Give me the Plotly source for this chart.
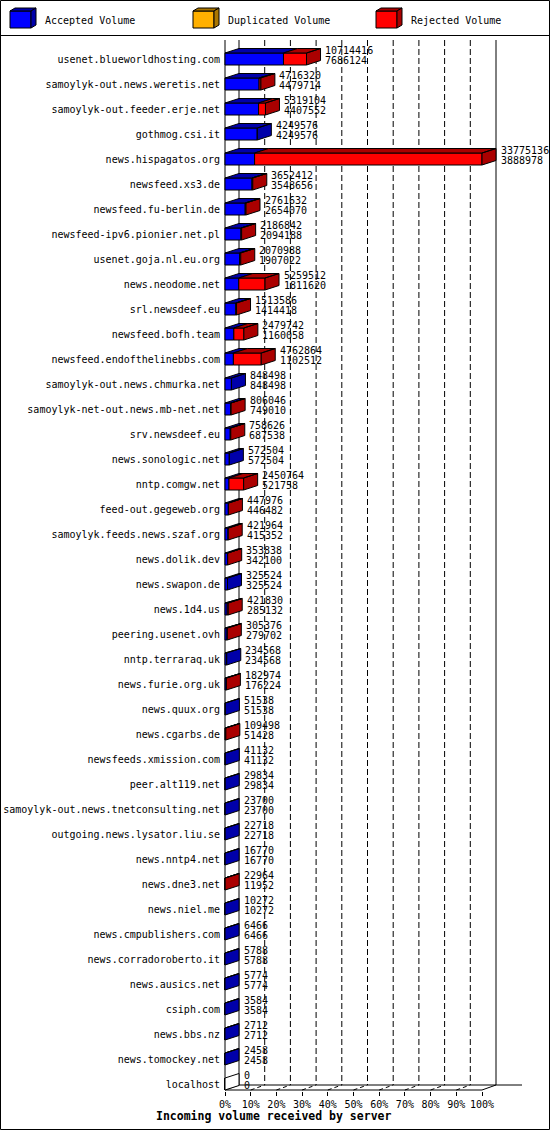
import plotly.graph_objects as go

# ---------------- data ----------------
servers = [
    "usenet.blueworldhosting.com", "samoylyk-out.news.weretis.net", "samoylyk-out.feeder.erje.net",
    "gothmog.csi.it", "news.hispagatos.org", "newsfeed.xs3.de", "newsfeed.fu-berlin.de",
    "newsfeed-ipv6.pionier.net.pl", "usenet.goja.nl.eu.org", "news.neodome.net", "srl.newsdeef.eu",
    "newsfeed.bofh.team", "newsfeed.endofthelinebbs.com", "samoylyk-out.news.chmurka.net",
    "samoylyk-net-out.news.mb-net.net", "srv.newsdeef.eu", "news.sonologic.net", "nntp.comgw.net",
    "feed-out.gegeweb.org", "samoylyk.feeds.news.szaf.org", "news.dolik.dev", "news.swapon.de",
    "news.1d4.us", "peering.usenet.ovh", "nntp.terraraq.uk", "news.furie.org.uk", "news.quux.org",
    "news.cgarbs.de", "newsfeeds.xmission.com", "peer.alt119.net",
    "samoylyk-out.news.tnetconsulting.net", "outgoing.news.lysator.liu.se", "news.nntp4.net",
    "news.dne3.net", "news.niel.me", "news.cmpublishers.com", "news.corradoroberto.it",
    "news.ausics.net", "csiph.com", "news.bbs.nz", "news.tomockey.net", "localhost",
]
offered_volume = [
    10714416, 4716320, 5319104, 4249576, 33775136, 3652412, 2761632, 2186842, 2070988, 5259512,
    1513586, 2479742, 4762864, 848498, 806046, 758626, 572504, 2450764, 447976, 421964, 353838,
    325524, 421830, 305376, 234568, 182974, 51538, 109498, 41132, 29834, 23700, 22718, 16770,
    22964, 10272, 6466, 5788, 5774, 3584, 2712, 2458, 0,
]
accepted_volume = [
    7686124, 4479714, 4407552, 4249576, 3888978, 3548656, 2654070, 2094188, 1907022, 1811620,
    1414418, 1160058, 1102512, 848498, 749010, 687538, 572504, 521758, 446482, 415352, 342100,
    325524, 285132, 279702, 234568, 176224, 51538, 51428, 41132, 29834, 23700, 22718, 16770,
    11952, 10272, 6466, 5788, 5774, 3584, 2712, 2458, 0,
]
percent_ticks = [0, 10, 20, 30, 40, 50, 60, 70, 80, 90, 100]
percent_labels = ["0%", "10%", "20%", "30%", "40%", "50%", "60%", "70%", "80%", "90%", "100%"]
legend_names = ["Accepted Volume", "Duplicated Volume", "Rejected Volume"]
x_title = "Incoming volume received by server"

# ---------------- styles / geometry ----------------
FONT = "DejaVu Sans Mono"
BLUE, BLUE_D = "#0000FF", "#0000AA"
RED, RED_D = "#FF0000", "#AA0000"
ORANGE, ORANGE_D = "#FFB000", "#AA7600"

FIG_W, FIG_H = 550, 1130
L, R, T, B = 224, 549, 36, 1091
PPU = 2.57        # pixels per percent
X0PX = 225        # pixel of 0 %
ROW0, ROWH = 59, 25


def xd(px):
    return (px - X0PX) / PPU


def yd(py):
    return (py - ROW0) / ROWH


def xp(px):
    return (px - L) / (R - L)


def yp(py):
    return (B - py) / (B - T)


DX = 14 / PPU
DY = 4.5 / ROWH
HALF = 6 / ROWH

vmax = max(offered_volume)
rows = list(range(len(servers)))
tot_pct = [v / vmax * 100 for v in offered_volume]
acc_pct = [a / vmax * 100 for a in accepted_volume]
rej_pct = [t - a for t, a in zip(tot_pct, acc_pct)]

fig = go.Figure()

# front faces
fig.add_trace(go.Bar(orientation="h", y=rows, x=acc_pct, base=[0] * len(rows), width=2 * HALF,
                     marker=dict(color=BLUE, line=dict(color="black", width=1)), hoverinfo="skip"))
fig.add_trace(go.Bar(orientation="h", y=rows, x=rej_pct, base=acc_pct, width=2 * HALF,
                     marker=dict(color=RED, line=dict(color="black", width=1)), hoverinfo="skip"))

# 3-D top and side faces
groups = {BLUE_D: ([], []), RED_D: ([], []), "#FFFFFF": ([], [])}


def add_poly(color, pts):
    xs, ys = groups[color]
    for px_, py_ in pts:
        xs.append(px_)
        ys.append(py_)
    xs.append(pts[0][0]); ys.append(pts[0][1])
    xs.append(None); ys.append(None)


for i in rows:
    v, a = tot_pct[i], acc_pct[i]
    top, bot = i - HALF, i + HALF
    if a > 0:
        add_poly(BLUE_D, [(0, top), (DX, top - DY), (a + DX, top - DY), (a, top)])
    if v > a:
        add_poly(RED_D, [(a, top), (a + DX, top - DY), (v + DX, top - DY), (v, top)])
    side = RED_D if v > a else (BLUE_D if v > 0 else "#FFFFFF")
    add_poly(side, [(v, top), (v + DX, top - DY), (v + DX, bot - DY), (v, bot)])

for color, (xs, ys) in groups.items():
    fig.add_trace(go.Scatter(x=xs, y=ys, mode="lines", fill="toself", fillcolor=color,
                             line=dict(color="black", width=1), hoverinfo="skip"))

# value labels
ann = []
for i in rows:
    xl = tot_pct[i] + DX + 3.5 / PPU
    ann.append(dict(x=xl, y=i - 9 / ROWH, xref="x", yref="y", text=str(offered_volume[i]),
                    showarrow=False, xanchor="left", yanchor="middle", borderpad=0,
                    font=dict(family=FONT, size=10, color="black")))
    ann.append(dict(x=xl, y=i + 1.5 / ROWH, xref="x", yref="y", text=str(accepted_volume[i]),
                    showarrow=False, xanchor="left", yanchor="middle", borderpad=0,
                    font=dict(family=FONT, size=10, color="black")))

# back wall, grid and floor
shapes = []
ytop, yback, yfront = yd(40), yd(1085), yd(1090)
line_k = dict(color="black", width=1)
shapes.append(dict(type="line", xref="x", yref="y", x0=0, x1=0, y0=ytop, y1=yfront, line=line_k, layer="below"))
for t in percent_ticks:
    solid = t in (0, 100)
    shapes.append(dict(type="line", xref="x", yref="y", x0=t + DX, x1=t + DX, y0=ytop, y1=yback,
                       line=dict(color="black", width=1, dash=None if solid else "6px,3px"), layer="below"))
    shapes.append(dict(type="line", xref="x", yref="y", x0=t, x1=t + DX, y0=yfront, y1=yback,
                       line=dict(color="black", width=1, dash=None if solid else "4px,3px"), layer="below"))
shapes.append(dict(type="line", xref="x", yref="y", x0=DX, x1=xd(522), y0=yback, y1=yback, line=line_k, layer="below"))
shapes.append(dict(type="line", xref="x", yref="y", x0=0, x1=100, y0=yfront, y1=yfront, line=line_k, layer="below"))

# legend (3-D cubes)
legend_x = [10, 193, 376]
legend_text_x = [44, 227, 410]
legend_cols = [(BLUE, BLUE_D), (ORANGE, ORANGE_D), (RED, RED_D)]
for lx, tx, (c, cd), name in zip(legend_x, legend_text_x, legend_cols, legend_names):
    x0, x1, y0, y1 = lx, lx + 21, 11, 28
    top_path = f"M {xp(x0)} {yp(y0)} L {xp(x0+5)} {yp(y0-3)} L {xp(x1+5)} {yp(y0-3)} L {xp(x1)} {yp(y0)} Z"
    side_path = f"M {xp(x1)} {yp(y0)} L {xp(x1+5)} {yp(y0-3)} L {xp(x1+5)} {yp(y1-3)} L {xp(x1)} {yp(y1)} Z"
    shapes.append(dict(type="rect", xref="paper", yref="paper", x0=xp(x0), x1=xp(x1), y0=yp(y1), y1=yp(y0),
                       fillcolor=c, line=line_k))
    shapes.append(dict(type="path", xref="paper", yref="paper", path=top_path, fillcolor=cd, line=line_k))
    shapes.append(dict(type="path", xref="paper", yref="paper", path=side_path, fillcolor=cd, line=line_k))
    ann.append(dict(x=xp(tx), y=yp(20), xref="paper", yref="paper", text=name, showarrow=False,
                    xanchor="left", yanchor="middle", borderpad=0,
                    font=dict(family=FONT, size=10, color="black")))

# legend separator and outer border
shapes.append(dict(type="line", xref="paper", yref="paper", x0=xp(0), x1=xp(550), y0=yp(35.5), y1=yp(35.5), line=line_k))
shapes.append(dict(type="rect", xref="paper", yref="paper", x0=xp(0.5), x1=xp(549.5), y0=yp(1129.5), y1=yp(0.5),
                   line=line_k))

# axis title
ann.append(dict(x=xp(155), y=yp(1116), xref="paper", yref="paper", text="<b>" + x_title + "</b>",
                showarrow=False, xanchor="left", yanchor="middle", borderpad=0,
                font=dict(family=FONT, size=11.5, color="black")))

fig.update_layout(
    width=FIG_W, height=FIG_H, autosize=False,
    margin=dict(l=L, r=FIG_W - R, t=T, b=FIG_H - B, pad=0),
    paper_bgcolor="white", plot_bgcolor="white",
    barmode="overlay", showlegend=False,
    xaxis=dict(range=[xd(L), xd(R)], tickvals=percent_ticks, ticktext=percent_labels,
               ticks="outside", ticklen=4, tickcolor="black", tickwidth=1,
               showgrid=False, zeroline=False, showline=False, fixedrange=True,
               tickfont=dict(family=FONT, size=10, color="black")),
    yaxis=dict(range=[yd(B), yd(T)], tickvals=rows, ticktext=servers, ticks="",
               ticklabelstandoff=3,
               showgrid=False, zeroline=False, showline=False, fixedrange=True,
               tickfont=dict(family=FONT, size=10, color="black")),
    shapes=shapes, annotations=ann,
)

fig.write_html("out.html", config={"displayModeBar": False},
               post_script="document.body.style.margin='0px';document.body.style.overflow='hidden';")
